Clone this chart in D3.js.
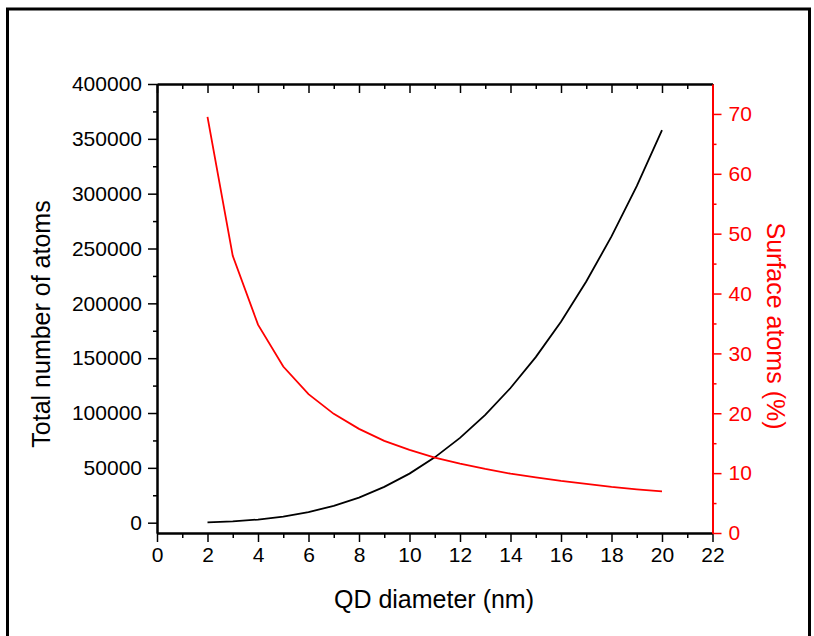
<!DOCTYPE html>
<html lang="en">
<head>
    <title>QD atoms</title>
    <script src="https://d3js.org/d3.v7.min.js" charset="utf-8"></script>
    <style type="text/css">
        body
        {
            margin: 0;
            background-color: white;
        }
        svg
        {
            display: block;
            font-family: "Liberation Sans", Arial, sans-serif;
        }
        .tick text
        {
            font-size: 21px;
        }
    </style>
</head>
<body>
    <div id="chart_div"></div>
    <script>
    "use strict";
    // data
    var diameters = [2, 3, 4, 5, 6, 7, 8, 9, 10, 11, 12, 13, 14, 15, 16, 17, 18, 19, 20];
    var total_atoms = [360, 1210, 2860, 5590, 9670, 15350, 22910, 32620, 44750, 59560,
                       77330, 98320, 122800, 151000, 183300, 219900, 261000, 306900, 358000];
    var surface_pct = [69.5, 46.3, 34.8, 27.8, 23.2, 19.9, 17.4, 15.4, 13.9, 12.6,
                       11.6, 10.7, 9.9, 9.3, 8.7, 8.2, 7.7, 7.3, 6.95];
    var x_ticks = [0, 2, 4, 6, 8, 10, 12, 14, 16, 18, 20, 22];
    var left_ticks = [0, 50000, 100000, 150000, 200000, 250000, 300000, 350000, 400000];
    var right_ticks = [0, 10, 20, 30, 40, 50, 60, 70];

    var svg_width = 814;
    var svg_height = 636;
    var plot_left = 157, plot_right = 712.5, plot_top = 84, plot_bottom = 533;

    var svg = d3.select("#chart_div")
        .append("svg")
        .attr("width", svg_width)
        .attr("height", svg_height);

    // outer frame
    svg.append("rect")
        .attr("x", 7.5)
        .attr("y", 9)
        .attr("width", 802)
        .attr("height", 650)
        .attr("fill", "none")
        .attr("stroke", "black")
        .attr("stroke-width", 3);

    var x = d3.scaleLinear().domain([0, 22]).range([plot_left, plot_right]);
    var y_left = d3.scaleLinear().domain([-9400, 400000]).range([plot_bottom, plot_top]);
    var y_right = d3.scaleLinear().domain([0, 75]).range([plot_bottom, plot_top]);

    function style_axis(g, color)
    {
        g.attr("font-size", null).attr("font-family", null);
        g.selectAll("path").attr("stroke", color).attr("stroke-width", 2);
        g.selectAll("line").attr("stroke", color).attr("stroke-width", 1.5);
        g.selectAll("text").attr("fill", color);
    }

    // minor ticks first
    var minor_x = d3.range(1, 22, 2);
    svg.append("g")
        .attr("transform", "translate(0," + plot_bottom + ")")
        .call(d3.axisBottom(x).tickValues(minor_x).tickSize(5).tickFormat("").tickSizeOuter(0))
        .call(style_axis, "black");
    svg.append("g")
        .attr("transform", "translate(0," + plot_top + ")")
        .call(d3.axisBottom(x).tickValues(minor_x).tickSize(5).tickFormat("").tickSizeOuter(0))
        .call(style_axis, "black");
    svg.append("g")
        .attr("transform", "translate(" + plot_left + ",0)")
        .call(d3.axisLeft(y_left).tickValues(d3.range(25000, 400000, 50000)).tickSize(4).tickFormat("").tickSizeOuter(0))
        .call(style_axis, "black");
    svg.append("g")
        .attr("transform", "translate(" + plot_right + ",0)")
        .call(d3.axisRight(y_right).tickValues(d3.range(5, 75, 10)).tickSize(4).tickFormat("").tickSizeOuter(0))
        .call(style_axis, "red");

    // major axes
    svg.append("g")
        .attr("transform", "translate(0," + plot_top + ")")
        .call(d3.axisBottom(x).tickValues(x_ticks).tickSize(9).tickFormat("").tickSizeOuter(0))
        .call(style_axis, "black");
    svg.append("g")
        .attr("transform", "translate(0," + plot_bottom + ")")
        .call(d3.axisBottom(x).tickValues(x_ticks).tickSize(9).tickPadding(5).tickSizeOuter(0))
        .call(style_axis, "black");
    svg.append("g")
        .attr("transform", "translate(" + plot_left + ",0)")
        .call(d3.axisLeft(y_left).tickValues(left_ticks).tickSize(9).tickPadding(6).tickFormat(d3.format("d")).tickSizeOuter(0))
        .call(style_axis, "black");
    svg.append("g")
        .attr("transform", "translate(" + plot_right + ",0)")
        .call(d3.axisRight(y_right).tickValues(right_ticks).tickSize(9).tickPadding(7).tickSizeOuter(0))
        .call(style_axis, "red");

    // curves
    svg.append("path")
        .datum(diameters)
        .attr("fill", "none")
        .attr("stroke", "black")
        .attr("stroke-width", 1.8)
        .attr("d", d3.line()
            .x(function(d) { return x(d); })
            .y(function(d, i) { return y_left(total_atoms[i]); }));
    svg.append("path")
        .datum(diameters)
        .attr("fill", "none")
        .attr("stroke", "red")
        .attr("stroke-width", 1.8)
        .attr("d", d3.line()
            .x(function(d) { return x(d); })
            .y(function(d, i) { return y_right(surface_pct[i]); }));

    // titles
    svg.append("text")
        .attr("x", 434)
        .attr("y", 608)
        .attr("text-anchor", "middle")
        .attr("font-size", 25)
        .text("QD diameter (nm)");
    svg.append("text")
        .attr("transform", "translate(50,324) rotate(-90)")
        .attr("text-anchor", "middle")
        .attr("font-size", 25)
        .text("Total number of atoms");
    svg.append("text")
        .attr("transform", "translate(767,326) rotate(90)")
        .attr("text-anchor", "middle")
        .attr("font-size", 25)
        .attr("fill", "red")
        .text("Surface atoms (%)");
    </script>
</body>
</html>
